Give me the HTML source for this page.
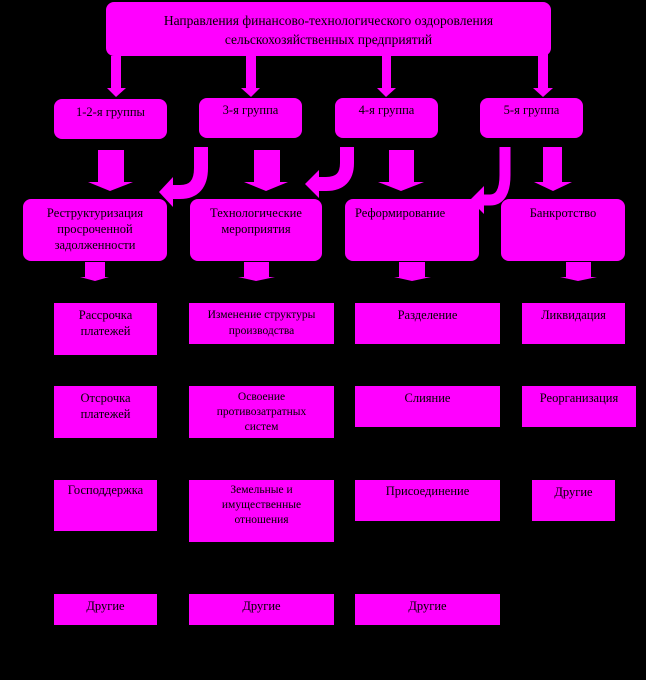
<!DOCTYPE html>
<html><head><meta charset="utf-8"><style>
body{margin:0;background:#000;width:646px;height:680px;position:relative;overflow:hidden;font-family:"Liberation Serif","DejaVu Serif",serif;}
.b{position:absolute;background:#ff00ff;color:#000;text-align:center;font-size:12.5px;line-height:16px;box-sizing:border-box;}
.r{border-radius:8px;}
svg{position:absolute;left:0;top:0;}
</style></head><body>
<svg width="646" height="680">
<g fill="#ff00ff">
<!-- top arrows -->
<rect x="111" y="56" width="10" height="32"/><polygon points="107,88 126,88 116,97"/>
<rect x="246" y="56" width="10" height="32"/><polygon points="241,88 260,88 251,97"/>
<rect x="382" y="56" width="9" height="32"/><polygon points="377,88 396,88 386,97"/>
<rect x="538" y="53" width="10" height="35"/><polygon points="533,88 553,88 543,97"/>
<!-- straight second arrows -->
<rect x="98" y="150" width="26" height="32"/><polygon points="88,182 133,182 110,191"/>
<rect x="254" y="150" width="26" height="32"/><polygon points="244,182 288,182 266,191"/>
<rect x="389" y="150" width="25" height="32"/><polygon points="378,182 424,182 401,191"/>
<rect x="543" y="147" width="19" height="35"/><polygon points="534,182 572,182 553,191"/>
<!-- curved head polygons -->
<polygon points="173,177 173,207 159,192"/>
<polygon points="319,170 319,198 305,184"/>
<polygon points="484,186 484,214 470,200"/>
<!-- small arrows under level3 -->
<rect x="85" y="262" width="20" height="15"/><polygon points="80,277 109,277 95,281"/>
<rect x="244" y="262" width="25" height="15"/><polygon points="238,277 275,277 256,281"/>
<rect x="399" y="262" width="26" height="15"/><polygon points="394,277 431,277 412,281"/>
<rect x="566" y="262" width="25" height="15"/><polygon points="560,277 597,277 578,281"/>
</g>
<g fill="none" stroke="#ff00ff" stroke-width="14">
<path d="M201,147 V168 Q201,192 180,192 H172"/>
<path d="M347,147 V163 Q347,184 326,184 H318"/>
<path d="M505,147 V175 Q505,200 490,200 H483" stroke-width="11"/>
</g>
</svg>

<div class="b r" style="left:106px;top:2px;width:445px;height:54px;padding-top:9px;font-size:13.5px;line-height:19px;">Направления финансово-технологического оздоровления<br>сельскохозяйственных предприятий</div>

<div class="b r" style="left:54px;top:99px;width:113px;height:40px;padding-top:5px;">1-2-я группы</div>
<div class="b r" style="left:199px;top:98px;width:103px;height:40px;padding-top:4px;">3-я группа</div>
<div class="b r" style="left:335px;top:98px;width:103px;height:40px;padding-top:4px;">4-я группа</div>
<div class="b r" style="left:480px;top:98px;width:103px;height:40px;padding-top:4px;">5-я группа</div>

<div class="b r" style="left:23px;top:199px;width:144px;height:62px;padding-top:6px;">Реструктуризация<br>просроченной<br>задолженности</div>
<div class="b r" style="left:190px;top:199px;width:132px;height:62px;padding-top:6px;">Технологические<br>мероприятия</div>
<div class="b r" style="left:345px;top:199px;width:134px;height:62px;padding-top:6px;text-align:left;padding-left:10px;">Реформирование</div>
<div class="b r" style="left:501px;top:199px;width:124px;height:62px;padding-top:6px;">Банкротство</div>

<div class="b" style="left:54px;top:303px;width:103px;height:52px;padding-top:4px;">Рассрочка<br>платежей</div>
<div class="b" style="left:189px;top:303px;width:145px;height:41px;padding-top:4px;font-size:11.5px;">Изменение структуры<br>производства</div>
<div class="b" style="left:355px;top:303px;width:145px;height:41px;padding-top:4px;">Разделение</div>
<div class="b" style="left:522px;top:303px;width:103px;height:41px;padding-top:4px;">Ликвидация</div>

<div class="b" style="left:54px;top:386px;width:103px;height:52px;padding-top:4px;">Отсрочка<br>платежей</div>
<div class="b" style="left:189px;top:386px;width:145px;height:52px;padding-top:4px;font-size:11.5px;line-height:15px;">Освоение<br>противозатратных<br>систем</div>
<div class="b" style="left:355px;top:386px;width:145px;height:41px;padding-top:4px;">Слияние</div>
<div class="b" style="left:522px;top:386px;width:114px;height:41px;padding-top:4px;">Реорганизация</div>

<div class="b" style="left:54px;top:480px;width:103px;height:51px;padding-top:2px;">Господдержка</div>
<div class="b" style="left:189px;top:480px;width:145px;height:62px;padding-top:3px;font-size:11.5px;line-height:15px;">Земельные и<br>имущественные<br>отношения</div>
<div class="b" style="left:355px;top:480px;width:145px;height:41px;padding-top:3px;">Присоединение</div>
<div class="b" style="left:532px;top:480px;width:83px;height:41px;padding-top:4px;">Другие</div>

<div class="b" style="left:54px;top:594px;width:103px;height:31px;padding-top:4px;">Другие</div>
<div class="b" style="left:189px;top:594px;width:145px;height:31px;padding-top:4px;">Другие</div>
<div class="b" style="left:355px;top:594px;width:145px;height:31px;padding-top:4px;">Другие</div>
</body></html>
